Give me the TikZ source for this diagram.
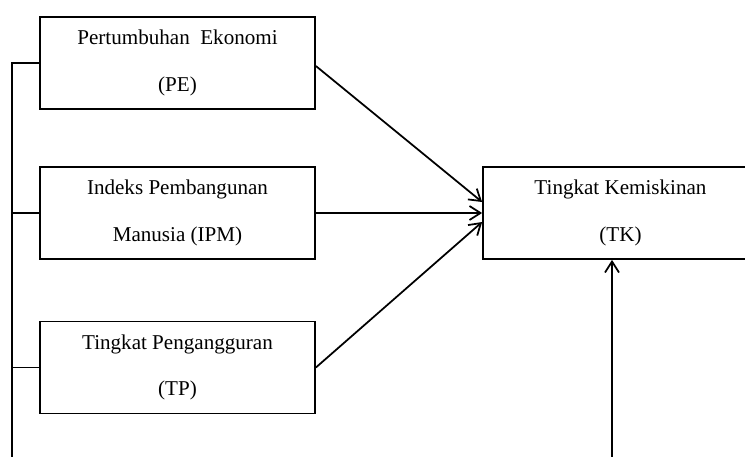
\documentclass[tikz,border=0pt]{standalone}
\usepackage{fontspec}
\setmainfont{Liberation Serif}
\usetikzlibrary{arrows.meta}

\tikzset{
  varbox/.style={draw, line width=1pt, minimum width=5.5cm, minimum height=1.84cm,
    align=center, font=\fontsize{12}{26.5}\selectfont, inner sep=0pt},
  link/.style={line width=1pt},
  arr/.style={link, -{Straight Barb[length=0.22cm, width=0.28cm, line width=1pt]}}
}

\begin{document}
\begin{tikzpicture}
            \useasboundingbox (0,0) rectangle (14.9,-9.12);
            \clip (0,0) rectangle (14.9,-9.12);

            \node[varbox] (PE) at (3.55,-1.26) {Pertumbuhan\ \ Ekonomi\\(PE)};
            \node[varbox] (IPM) at (3.55,-4.26) {Indeks Pembangunan\\Manusia (IPM)};
            \node[varbox] (TP) at (3.55,-7.35) {Tingkat Pengangguran\\(TP)};
            \node[varbox] (TK) at (12.41,-4.26) {Tingkat Kemiskinan\\(TK)};

            \coordinate (L) at (0.24,-9.3);
            \coordinate (R) at (12.24,-9.3);

            \draw[link] (PE.west) -| (L);
            \draw[link] (IPM.west) -- (IPM.west -| L);
            \draw[link] (TP.west) -- (TP.west -| L);

            \draw[arr] ([yshift=-0.06cm]PE.east) -- ([yshift=0.22cm]TK.west);
            \draw[arr] (IPM.east) -- (TK.west);
            \draw[arr] (TP.east) -- ([yshift=-0.18cm]TK.west);
            \draw[arr] (R) -- (R |- TK.south);
          \end{tikzpicture}
\end{document}
